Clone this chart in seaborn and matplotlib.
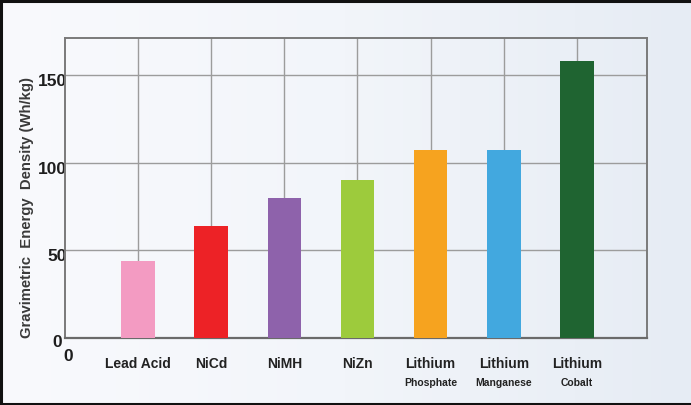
import numpy as np
import pandas as pd
import seaborn as sns
import matplotlib
matplotlib.use("Agg")
import matplotlib.pyplot as plt
import matplotlib.transforms as mtransforms
from matplotlib.lines import Line2D

# Battery chemistries and their gravimetric energy density (Wh/kg)
chemistries = ["Lead Acid", "NiCd", "NiMH", "NiZn",
               "Lithium Phosphate", "Lithium Manganese", "Lithium Cobalt"]
energy_density = [44, 64, 80, 90, 107, 107, 158]
label_top = ["Lead Acid", "NiCd", "NiMH", "NiZn", "Lithium", "Lithium", "Lithium"]
label_sub = ["", "", "", "", "Phosphate", "Manganese", "Cobalt"]
bar_colors = ["#f39bc2", "#ed2226", "#8e62ab", "#9dcb3c", "#f6a31f", "#42a8df", "#1f6431"]
y_ticks = [0, 50, 100, 150]

plt.rcParams["font.family"] = ["Liberation Sans", "DejaVu Sans"]
plt.rcParams["font.weight"] = "bold"

W, H, DPI = 691, 406, 100
fig = plt.figure(figsize=(W / DPI, H / DPI), dpi=DPI)

# soft horizontal background gradient
bg = fig.add_axes([0, 0, 1, 1], zorder=-10)
grad = np.linspace(0, 1, 256)[None, :]
cmap = matplotlib.colors.LinearSegmentedColormap.from_list(
    "bg", ["#f9fafd", "#f2f5fa", "#e6ecf4"])
bg.imshow(grad, aspect="auto", cmap=cmap, extent=[0, 1, 0, 1])
bg.set_axis_off()

ax = fig.add_axes([65 / W, 1 - 339 / H, 582 / W, 300 / H])
ax.set_facecolor("none")

df = pd.DataFrame({"chem": chemistries, "wh": energy_density})
sns.barplot(data=df, x="chem", y="wh", hue="chem", order=chemistries,
            hue_order=chemistries, palette=bar_colors, saturation=1,
            width=0.46, legend=False, ax=ax, zorder=3)
for p in ax.patches:
    p.set_edgecolor("none")

ax.set_xlim(-1, 6.96)
ax.set_ylim(0, 171)
ax.set_axisbelow(True)

# grid at every category and every 50 Wh/kg
ax.set_xticks(range(len(chemistries)))
ax.set_xticklabels(label_top, fontsize=10, fontweight="bold", color="#222222")
ax.set_yticks(y_ticks)
ax.set_yticklabels([str(v) for v in y_ticks], fontsize=12.5,
                   fontweight="bold", color="#1e1e1e")
ax.grid(True, color="#9c9c9c", linewidth=1.0)
ax.tick_params(axis="both", length=0)
ax.tick_params(axis="x", pad=13)
ax.tick_params(axis="y", pad=0)
for lbl, v in zip(ax.get_yticklabels(), y_ticks):
    dx, dy = (-3, -2) if v == 0 else (2, -4)
    offset = mtransforms.ScaledTranslation(dx / DPI, dy / DPI, fig.dpi_scale_trans)
    lbl.set_transform(lbl.get_transform() + offset)

ax.set_xlabel("")
ax.set_ylabel("")
for side in ["left", "right", "top"]:
    ax.spines[side].set_color("#7a7a7a")
    ax.spines[side].set_linewidth(1.4)
ax.spines["bottom"].set_color("#6a6a6a")
ax.spines["bottom"].set_linewidth(1.6)

# second line of the lithium labels
trans = mtransforms.blended_transform_factory(ax.transData, ax.transAxes)
for i, sub in enumerate(label_sub):
    if sub:
        ax.text(i, -0.147, sub, transform=trans, ha="center", va="center",
                fontsize=7.5, fontweight="bold", color="#222222")

# origin label under the axis corner
ax.text(-0.955, -0.058, "0", transform=trans, ha="center", va="center",
        fontsize=12.5, fontweight="bold", color="#1e1e1e")

fig.text(27 / W, 1 - 207 / H, "Gravimetric  Energy  Density (Wh/kg)",
         rotation=90, ha="center", va="center", fontsize=10.7,
         fontweight="bold", color="#3a3a3a")

# dark frame around the picture
for xs, ys in [([0, 1], [1 - 1.5 / H] * 2),
               ([1.2 / W] * 2, [0, 1]),
               ([0, 1], [1.5 / H] * 2)]:
    fig.add_artist(Line2D(xs, ys, transform=fig.transFigure,
                          color="#111111", linewidth=2.2))

fig.savefig("out.png", dpi=DPI)
